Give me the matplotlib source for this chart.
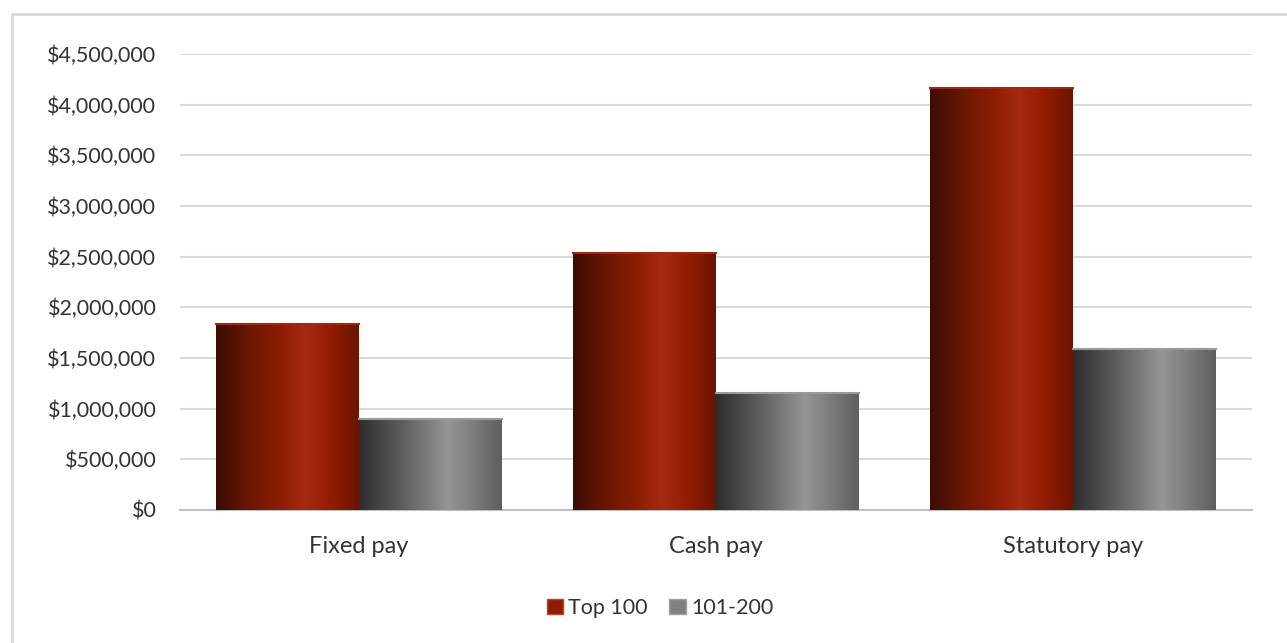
import numpy as np
import matplotlib
matplotlib.use("Agg")
import matplotlib.pyplot as plt
from matplotlib.colors import LinearSegmentedColormap
from matplotlib.patches import Patch, Rectangle
from matplotlib.ticker import FuncFormatter, MultipleLocator

categories = ["Fixed pay", "Cash pay", "Statutory pay"]
series_names = ["Top 100", "101-200"]
top100 = [1836000, 2536000, 4165000]
r101_200 = [898000, 1155000, 1589000]

plt.rcParams['font.family'] = ['Lato', 'DejaVu Sans']

fig = plt.figure(figsize=(12.87, 6.43), dpi=100)
fig.patches.append(Rectangle((12/1287, -0.1), 1.2, 1 - 14/643 + 0.1,
                             transform=fig.transFigure, fill=False,
                             edgecolor='#d9d9d9', linewidth=2, zorder=0))
ax = fig.add_axes([180/1287, 1 - 510/643, 1072/1287, 456/643])

red_cmap = LinearSegmentedColormap.from_list("red", [
    (0.0, "#3a0d02"), (0.25, "#6e1703"), (0.45, "#8c1d04"),
    (0.62, "#a52a12"), (0.8, "#931d00"), (1.0, "#6a1500")])
gray_cmap = LinearSegmentedColormap.from_list("gray", [
    (0.0, "#2e2e2e"), (0.25, "#555555"), (0.45, "#777777"),
    (0.62, "#959595"), (0.8, "#7d7d7d"), (1.0, "#5e5e5e")])

x = np.arange(len(categories))
w = 0.4
grad = np.linspace(0, 1, 256).reshape(1, -1)
for vals, offs, cmap, edge in [(top100, -w/2, red_cmap, "#a02a10"),
                              (r101_200, w/2, gray_cmap, "#9a9a9a")]:
    bars = ax.bar(x + offs, vals, width=w, color='none', edgecolor='none', zorder=3)
    for b in bars:
        x0, y0 = b.get_x(), b.get_y()
        bw, bh = b.get_width(), b.get_height()
        im = ax.imshow(grad, cmap=cmap, aspect='auto',
                       extent=[x0, x0 + bw, y0, y0 + bh], zorder=3)
        im.set_clip_path(b)
        ax.plot([x0, x0 + bw], [y0 + bh, y0 + bh], color=edge, lw=1.5, zorder=4)

ax.set_xlim(-0.5, 2.5)
ax.set_ylim(0, 4500000)
ax.yaxis.set_major_locator(MultipleLocator(500000))
ax.yaxis.set_major_formatter(FuncFormatter(lambda v, p: f"${v:,.0f}"))
ax.set_xticks(x)
ax.set_xticklabels(categories)
ax.grid(axis='y', color='#d9d9d9', linewidth=1.5, zorder=0)
ax.set_axisbelow(True)
for s in ['top', 'right', 'left']:
    ax.spines[s].set_visible(False)
ax.spines['bottom'].set_color('#bfbfbf')
ax.spines['bottom'].set_linewidth(1.5)
ax.tick_params(axis='both', length=0, colors='#333333')
ax.tick_params(axis='y', labelsize=15.5, pad=17)
ax.tick_params(axis='x', labelsize=17, pad=18.5)

handles = [Patch(facecolor="#8f1d03", edgecolor="#c04030", label=series_names[0]),
           Patch(facecolor="#808080", edgecolor="#a0a0a0", label=series_names[1])]
fig.legend(handles=handles, loc='center', bbox_to_anchor=(660/1287, 1 - 608/643),
           ncol=2, frameon=False, fontsize=15.5, handlelength=0.75, handleheight=0.75,
           handletextpad=0.25, columnspacing=1.0, labelcolor='#333333')

fig.savefig("out.png", dpi=100)
